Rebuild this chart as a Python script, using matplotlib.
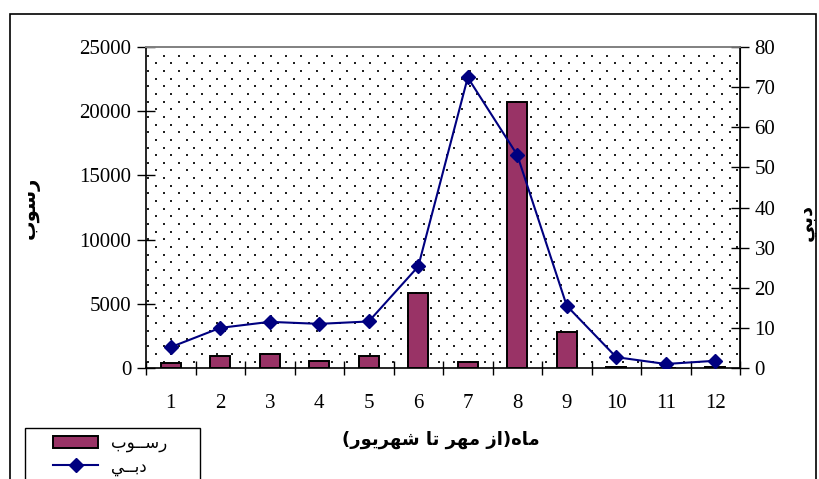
import matplotlib
matplotlib.use("Agg")
import matplotlib.pyplot as plt
import numpy as np
from matplotlib.lines import Line2D
from matplotlib.patches import Patch, Rectangle

# ---------------- data ----------------
months = list(range(1, 13))
month_labels = [str(m) for m in months]
sediment = [390, 960, 1110, 545, 960, 5830, 480, 20750, 2820, 110, 20, 110]
discharge = [5.2, 10.0, 11.5, 11.0, 11.6, 25.3, 72.4, 53.1, 15.5, 2.7, 1.0, 1.8]

label_sed_axis = "رسوب"
label_q_axis = "دبي"
label_x = "ماه(از مهر تا شهريور)"
legend_sed = "رســوب"
legend_q = "دبــي"

# ------------- simple Arabic shaping (presentation forms) -------------
FORMS = {
    'ا': ('\uFE8D', '\uFE8E', None, None),
    'ب': ('\uFE8F', '\uFE90', '\uFE91', '\uFE92'),
    'ت': ('\uFE95', '\uFE96', '\uFE97', '\uFE98'),
    'د': ('\uFEA9', '\uFEAA', None, None),
    'ر': ('\uFEAD', '\uFEAE', None, None),
    'ز': ('\uFEAF', '\uFEB0', None, None),
    'س': ('\uFEB1', '\uFEB2', '\uFEB3', '\uFEB4'),
    'ش': ('\uFEB5', '\uFEB6', '\uFEB7', '\uFEB8'),
    'م': ('\uFEE1', '\uFEE2', '\uFEE3', '\uFEE4'),
    'ه': ('\uFEE9', '\uFEEA', '\uFEEB', '\uFEEC'),
    'و': ('\uFEED', '\uFEEE', None, None),
    'ي': ('\uFEF1', '\uFEF2', '\uFEF3', '\uFEF4'),
    'ـ': ('\u0640', '\u0640', '\u0640', '\u0640'),
}


def shape(s):
    chars = list(s)
    out = []

    def joins_next(c):
        return c in FORMS and FORMS[c][2] is not None

    for i, c in enumerate(chars):
        if c not in FORMS:
            out.append(c)
            continue
        prev = chars[i - 1] if i > 0 else None
        nxt = chars[i + 1] if i + 1 < len(chars) else None
        jp = prev is not None and joins_next(prev)
        jn = joins_next(c) and nxt is not None and nxt in FORMS
        iso, fin, ini, med = FORMS[c]
        if jp and jn:
            g = med
        elif jp:
            g = fin
        elif jn:
            g = ini
        else:
            g = iso
        out.append(g)
    vis = ''.join(reversed(out))
    return vis.translate(str.maketrans('()', ')('))


# ---------------- figure ----------------
W, H = 819, 479
fig = plt.figure(figsize=(W / 100, H / 100), dpi=100)
L, R, T, B = 146, 740, 47, 368
ax = fig.add_axes([L / W, 1 - B / H, (R - L) / W, (B - T) / H])

serif = "Liberation Serif"
arab = "DejaVu Sans"

# dotted background (decoration)
sp = 7.65
pts = []
ny = int((B - T) / sp) + 2
nx = int((R - L) / sp) + 2
for j in range(ny):
    for i in range(nx):
        if (i + j) % 2 == 0:
            px = 2.3 + i * sp
            py = 8.7 + j * sp
            if px < (R - L) - 1 and py < (B - T) - 1:
                pts.append((px / (R - L), 1 - py / (B - T)))
pts = np.array(pts)
ax.scatter(pts[:, 0], pts[:, 1], s=2.2, c="#222222", marker="s", linewidths=0,
           transform=ax.transAxes, zorder=0.5)

ax.bar(months, sediment, width=0.4, color="#993366", edgecolor="black",
       linewidth=1.4, zorder=2)
ax.set_xlim(0.5, 12.5)
ax.set_ylim(0, 25000)
ax.set_yticks(np.arange(0, 25001, 5000))
ax.set_xticks(np.arange(0.5, 12.6, 1.0))
ax.set_xticklabels([])
ax.set_xticks(months, minor=True)
ax.set_xticklabels(month_labels, minor=True)
ax.tick_params(axis="x", which="major", direction="inout", length=10, width=1)
ax.tick_params(axis="x", which="minor", length=0, pad=19, labelsize=15)
ax.tick_params(axis="y", direction="inout", length=13, width=1, labelsize=15, pad=4)
for lab in ax.get_xticklabels(minor=True) + ax.get_yticklabels():
    lab.set_fontfamily(serif)
for s in ["left", "bottom"]:
    ax.spines[s].set_color("black")
    ax.spines[s].set_linewidth(1.2)
ax.spines["top"].set_color("#808080")
ax.spines["top"].set_linewidth(1.2)

ax2 = ax.twinx()
ax2.plot(months, discharge, color="#000080", linewidth=1.5, marker="D",
         markersize=7, markerfacecolor="#000080", markeredgecolor="#000080", zorder=3)
ax2.set_ylim(0, 80)
ax2.set_yticks(np.arange(0, 81, 10))
ax2.tick_params(axis="y", direction="inout", length=13, width=1, labelsize=15, pad=4)
for lab in ax2.get_yticklabels():
    lab.set_fontfamily(serif)
ax2.spines["right"].set_color("black")
ax2.spines["right"].set_linewidth(1.2)
ax2.spines["top"].set_color("#808080")
ax2.spines["top"].set_linewidth(1.2)
ax2.spines["left"].set_visible(False)
ax2.spines["bottom"].set_visible(False)

# axis titles
fig.text(30 / W, 1 - 208 / H, shape(label_sed_axis), rotation=90, ha="center", va="center",
         fontsize=14, fontweight="bold", family=arab)
fig.text(806 / W, 1 - 222 / H, shape(label_q_axis), rotation=90, ha="center", va="center",
         fontsize=14, fontweight="bold", family=arab)
fig.text(441 / W, 1 - 440 / H, shape(label_x), ha="center", va="center",
         fontsize=13, fontweight="bold", family=arab)

# outer chart border
fig.patches.append(Rectangle((10 / W, -0.05), (816 - 10) / W, 1.05 - 14 / H,
                             transform=fig.transFigure, fill=False,
                             edgecolor="black", linewidth=1.2))

# legend (frame drawn separately, as it runs off the bottom edge)
fig.patches.append(Rectangle((25 / W, -0.05), (200 - 25) / W, 0.05 + 1 - 428 / H,
                             transform=fig.transFigure, fill=True, facecolor="white",
                             edgecolor="black", linewidth=1.0, zorder=3))
handles = [Patch(facecolor="#993366", edgecolor="black", linewidth=1.4),
           Line2D([0], [0], color="#000080", linewidth=1.5, marker="D", markersize=7)]
leg = fig.legend(handles, [shape(legend_sed), shape(legend_q)],
                 loc="upper left", bbox_to_anchor=(53 / W, 1 - 434 / H),
                 prop={"family": arab, "size": 12}, frameon=False,
                 handlelength=2.7, handleheight=0.75, handletextpad=0.8,
                 borderpad=0, labelspacing=0.3, borderaxespad=0)
leg.set_zorder(4)

fig.savefig("out.png", dpi=100)
